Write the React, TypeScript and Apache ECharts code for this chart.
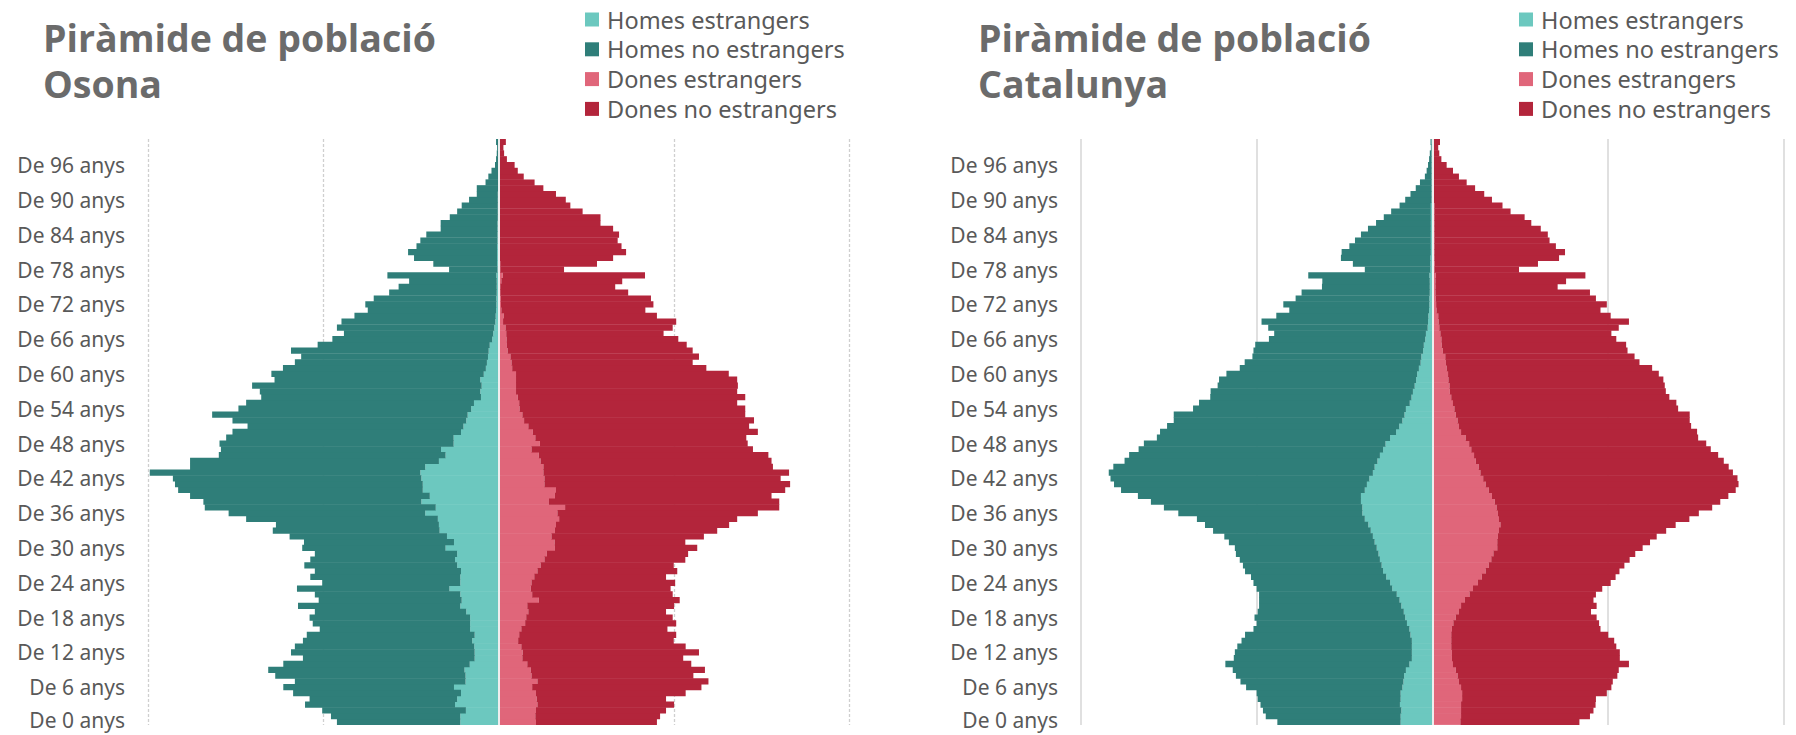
import React, { useEffect, useRef } from "react";
import * as echarts from "echarts";

// Age categories (index 0 = 0 years, bottom of the pyramid)
const ageLabels: string[] = Array.from({ length: 101 }, (_, i) => `De ${i} anys`);

const seriesNames = ["Homes estrangers", "Homes no estrangers", "Dones estrangers", "Dones no estrangers"];
const colors = ["#6cc8bf", "#2f7e79", "#e0667a", "#b3253b"];

// Values in % of population (outer edge = total of each sex; inner = foreigners)
const osonaMenTotal = [
  0.461, 0.478, 0.503, 0.552, 0.539, 0.586, 0.614, 0.581, 0.637, 0.657,
  0.614, 0.558, 0.592, 0.581, 0.558, 0.547, 0.51, 0.53, 0.539, 0.524,
  0.572, 0.513, 0.524, 0.575, 0.503, 0.537, 0.524, 0.554, 0.537, 0.524,
  0.56, 0.555, 0.596, 0.644, 0.635, 0.72, 0.77, 0.838, 0.842, 0.88,
  0.914, 0.923, 0.929, 0.995, 0.88, 0.88, 0.798, 0.792, 0.796, 0.777,
  0.759, 0.716, 0.759, 0.817, 0.742, 0.72, 0.677, 0.681, 0.703, 0.639,
  0.648, 0.615, 0.581, 0.563, 0.592, 0.516, 0.474, 0.441, 0.461, 0.448,
  0.411, 0.373, 0.38, 0.356, 0.312, 0.285, 0.255, 0.317, 0.141, 0.186,
  0.241, 0.258, 0.234, 0.223, 0.206, 0.165, 0.165, 0.139, 0.118, 0.105,
  0.084, 0.062, 0.062, 0.037, 0.029, 0.02, 0.01, 0.007, 0.005, 0.004, 0.007,
];
const osonaMenForeign = [
  0.109, 0.109, 0.093, 0.124, 0.118, 0.107, 0.127, 0.094, 0.094, 0.097,
  0.082, 0.068, 0.068, 0.069, 0.075, 0.068, 0.081, 0.081, 0.081, 0.092,
  0.109, 0.105, 0.109, 0.14, 0.109, 0.109, 0.107, 0.118, 0.124, 0.118,
  0.151, 0.127, 0.147, 0.168, 0.17, 0.173, 0.209, 0.179, 0.22, 0.196,
  0.216, 0.216, 0.22, 0.223, 0.209, 0.17, 0.151, 0.164, 0.128, 0.128,
  0.107, 0.1, 0.092, 0.088, 0.078, 0.07, 0.05, 0.052, 0.048, 0.052,
  0.042, 0.036, 0.033, 0.03, 0.028, 0.025, 0.018, 0.015, 0.012, 0.009,
  0.008, 0.007, 0.006, 0.006, 0.005, 0.005, 0.005, 0.006, 0.003, 0.004,
  0.004, 0.004, 0.004, 0.003, 0.003, 0.003, 0.003, 0.002, 0.002, 0.002,
  0.002, 0.002, 0.001, 0.001, 0.001, 0.001, 0.001, 0.001, 0.001, 0.001, 0.001,
];
const osonaWomenTotal = [
  0.452, 0.461, 0.478, 0.501, 0.478, 0.534, 0.579, 0.599, 0.556, 0.589,
  0.55, 0.527, 0.572, 0.534, 0.5, 0.507, 0.482, 0.507, 0.497, 0.478,
  0.501, 0.517, 0.497, 0.491, 0.504, 0.478, 0.51, 0.5, 0.533, 0.541,
  0.567, 0.533, 0.586, 0.624, 0.658, 0.681, 0.74, 0.801, 0.801, 0.779,
  0.818, 0.832, 0.805, 0.829, 0.783, 0.779, 0.77, 0.726, 0.711, 0.707,
  0.74, 0.715, 0.729, 0.704, 0.704, 0.681, 0.704, 0.681, 0.683, 0.681,
  0.657, 0.593, 0.554, 0.572, 0.554, 0.537, 0.513, 0.471, 0.497, 0.507,
  0.452, 0.419, 0.442, 0.435, 0.37, 0.333, 0.353, 0.418, 0.187, 0.281,
  0.327, 0.364, 0.351, 0.34, 0.344, 0.327, 0.291, 0.291, 0.24, 0.205,
  0.192, 0.164, 0.128, 0.103, 0.072, 0.055, 0.046, 0.024, 0.016, 0.014, 0.021,
];
const osonaWomenForeign = [
  0.107, 0.105, 0.107, 0.111, 0.109, 0.107, 0.096, 0.111, 0.094, 0.092,
  0.082, 0.068, 0.069, 0.065, 0.056, 0.059, 0.065, 0.076, 0.079, 0.085,
  0.082, 0.115, 0.096, 0.092, 0.094, 0.102, 0.111, 0.12, 0.131, 0.138,
  0.161, 0.16, 0.151, 0.161, 0.164, 0.173, 0.168, 0.19, 0.144, 0.161,
  0.164, 0.131, 0.131, 0.128, 0.128, 0.12, 0.115, 0.094, 0.118, 0.105,
  0.098, 0.085, 0.073, 0.068, 0.06, 0.059, 0.055, 0.05, 0.05, 0.05,
  0.05, 0.039, 0.037, 0.034, 0.026, 0.024, 0.023, 0.022, 0.02, 0.013,
  0.015, 0.008, 0.007, 0.006, 0.005, 0.005, 0.008, 0.012, 0.005, 0.005,
  0.004, 0.004, 0.004, 0.004, 0.004, 0.004, 0.004, 0.004, 0.004, 0.004,
  0.003, 0.003, 0.003, 0.003, 0.003, 0.003, 0.003, 0.003, 0.003, 0.003, 0.003,
];

const catMenTotal = [
  0.441, 0.474, 0.482, 0.489, 0.497, 0.5, 0.53, 0.546, 0.559, 0.568,
  0.589, 0.565, 0.562, 0.555, 0.543, 0.533, 0.509, 0.5, 0.506, 0.497,
  0.493, 0.493, 0.493, 0.5, 0.509, 0.516, 0.533, 0.539, 0.548, 0.559,
  0.562, 0.579, 0.592, 0.624, 0.647, 0.67, 0.723, 0.764, 0.801, 0.838,
  0.886, 0.906, 0.916, 0.921, 0.908, 0.876, 0.863, 0.836, 0.821, 0.784,
  0.775, 0.755, 0.736, 0.736, 0.681, 0.664, 0.632, 0.631, 0.611, 0.607,
  0.586, 0.548, 0.534, 0.512, 0.509, 0.504, 0.465, 0.45, 0.467, 0.486,
  0.444, 0.407, 0.424, 0.389, 0.372, 0.314, 0.313, 0.353, 0.192, 0.226,
  0.26, 0.258, 0.236, 0.22, 0.203, 0.183, 0.16, 0.138, 0.117, 0.093,
  0.077, 0.062, 0.047, 0.035, 0.021, 0.016, 0.012, 0.009, 0.007, 0.004, 0.005,
];
const catMenForeign = [
  0.09, 0.09, 0.088, 0.092, 0.09, 0.09, 0.085, 0.082, 0.08, 0.075,
  0.065, 0.058, 0.058, 0.058, 0.058, 0.062, 0.065, 0.072, 0.077, 0.081,
  0.088, 0.093, 0.101, 0.114, 0.12, 0.131, 0.14, 0.144, 0.149, 0.153,
  0.158, 0.164, 0.169, 0.175, 0.182, 0.192, 0.199, 0.199, 0.203, 0.203,
  0.192, 0.186, 0.179, 0.169, 0.164, 0.156, 0.149, 0.14, 0.133, 0.12,
  0.103, 0.094, 0.085, 0.079, 0.075, 0.064, 0.059, 0.055, 0.05, 0.046,
  0.043, 0.038, 0.033, 0.031, 0.026, 0.024, 0.02, 0.018, 0.013, 0.012,
  0.011, 0.009, 0.008, 0.008, 0.007, 0.007, 0.007, 0.008, 0.005, 0.005,
  0.005, 0.004, 0.004, 0.004, 0.004, 0.004, 0.004, 0.004, 0.004, 0.004,
  0.002, 0.002, 0.002, 0.002, 0.002, 0.002, 0.002, 0.002, 0.002, 0.002, 0.002,
];
const catWomenTotal = [
  0.419, 0.449, 0.459, 0.465, 0.466, 0.497, 0.51, 0.514, 0.527, 0.531,
  0.56, 0.534, 0.534, 0.524, 0.518, 0.501, 0.479, 0.475, 0.468, 0.452,
  0.468, 0.459, 0.466, 0.484, 0.508, 0.522, 0.533, 0.547, 0.562, 0.578,
  0.599, 0.62, 0.639, 0.666, 0.693, 0.732, 0.759, 0.797, 0.82, 0.843,
  0.864, 0.872, 0.869, 0.856, 0.844, 0.83, 0.814, 0.793, 0.78, 0.757,
  0.754, 0.737, 0.733, 0.733, 0.7, 0.695, 0.675, 0.665, 0.662, 0.658,
  0.645, 0.626, 0.59, 0.576, 0.556, 0.552, 0.524, 0.51, 0.531, 0.56,
  0.508, 0.479, 0.497, 0.466, 0.449, 0.357, 0.381, 0.436, 0.247, 0.301,
  0.361, 0.378, 0.352, 0.334, 0.329, 0.309, 0.282, 0.263, 0.223, 0.2,
  0.17, 0.148, 0.122, 0.098, 0.076, 0.059, 0.041, 0.026, 0.02, 0.017, 0.022,
];
const catWomenForeign = [
  0.08, 0.082, 0.082, 0.082, 0.085, 0.085, 0.082, 0.076, 0.072, 0.067,
  0.059, 0.056, 0.056, 0.054, 0.054, 0.054, 0.056, 0.06, 0.067, 0.076,
  0.082, 0.093, 0.106, 0.116, 0.13, 0.141, 0.152, 0.161, 0.168, 0.174,
  0.185, 0.185, 0.187, 0.19, 0.194, 0.19, 0.187, 0.183, 0.178, 0.17,
  0.161, 0.152, 0.145, 0.137, 0.132, 0.124, 0.119, 0.111, 0.105, 0.095,
  0.082, 0.076, 0.072, 0.067, 0.063, 0.059, 0.054, 0.05, 0.049, 0.046,
  0.045, 0.041, 0.039, 0.037, 0.03, 0.027, 0.026, 0.023, 0.02, 0.018,
  0.017, 0.012, 0.011, 0.01, 0.009, 0.009, 0.009, 0.01, 0.006, 0.007,
  0.006, 0.006, 0.006, 0.006, 0.006, 0.006, 0.006, 0.006, 0.006, 0.006,
  0.004, 0.004, 0.004, 0.004, 0.004, 0.004, 0.004, 0.004, 0.004, 0.004, 0.004,
];

const r3 = (v: number) => Math.round(v * 1000) / 1000;

function pyramidSeries(idx: number, menF: number[], menT: number[], womF: number[], womT: number[]) {
  const base = {
    type: "bar" as const,
    xAxisIndex: idx,
    yAxisIndex: idx,
    stack: "s" + idx,
    barWidth: "108%",
    silent: true,
  };
  const style = (c: string) => ({ color: c });
  return [
    { ...base, name: seriesNames[0], data: menF.map((v) => r3(-v)), itemStyle: style(colors[0]) },
    { ...base, name: seriesNames[1], data: menT.map((t, k) => r3(-(t - menF[k]))), itemStyle: style(colors[1]) },
    { ...base, name: seriesNames[2], data: womF.map((v) => r3(v)), itemStyle: style(colors[2]) },
    {
      ...base,
      name: seriesNames[3],
      data: womT.map((t, k) => r3(t - womF[k])),
      itemStyle: style(colors[3]),
      markLine: {
        silent: true,
        symbol: ["none", "none"],
        label: { show: false },
        lineStyle: { color: "#eeeeee", width: 2, type: "solid" },
        data: [{ xAxis: 0 }],
      },
    },
  ];
}

export default function App() {
  const ref = useRef<HTMLDivElement>(null);
  useEffect(() => {
    document.body.style.margin = "0";
    const chart = echarts.init(ref.current!, undefined, { renderer: "svg" });
    const gridTop = 139;
    const gridBottom = 9.5;
    const makeX = (idx: number, dashed: boolean) => ({
      type: "value" as const,
      gridIndex: idx,
      min: -1,
      max: 1,
      interval: 0.5,
      axisLabel: { show: false },
      axisTick: { show: false },
      axisLine: { show: false },
      splitLine: {
        show: true,
        lineStyle: dashed
          ? { color: "#cfcfcf", width: 1.3, type: [3, 2] }
          : { color: "#d9d9d9", width: 1.6, type: "solid" },
      },
    });
    const labelFont = { fontSize: 21, lineHeight: 19, color: "#595959", fontFamily: "Noto Sans" };
    const makeY = (idx: number) => ({
      type: "category" as const,
      gridIndex: idx,
      data: ageLabels,
      axisTick: { show: false },
      axisLine: { show: false },
      axisLabel: {
        interval: 5,
        ...labelFont,
        margin: 23,
        formatter: (v: string, i: number) => (i === 0 ? `{low|${v}}` : v),
        rich: { low: { ...labelFont, padding: [0, 0, 5, 0] } },
      },
    });
    const legendBase = {
      orient: "vertical" as const,
      top: 7.5,
      padding: 0,
      itemWidth: 14,
      itemHeight: 14,
      itemGap: 5.8,
      icon: "rect",
      selectedMode: false,
      data: seriesNames,
      textStyle: { fontSize: 23.5, color: "#595959", fontFamily: "Noto Sans", lineHeight: 24, padding: [0, 0, 0, 3] },
    };
    const titleStyle = {
      fontSize: 37.5,
      fontWeight: 700,
      color: "#6b6b6b",
      fontFamily: "Open Sans",
      lineHeight: 46,
    };
    chart.setOption({
      animation: false,
      textStyle: { fontFamily: "Noto Sans" },
      title: [
        { text: "Piràmide de població\nOsona", left: 43, top: 14, padding: 0, textStyle: titleStyle },
        { text: "Piràmide de població\nCatalunya", left: 978, top: 14, padding: 0, textStyle: titleStyle },
      ],
      legend: [
        { ...legendBase, left: 585 },
        { ...legendBase, left: 1519 },
      ],
      grid: [
        { left: 148, width: 701, top: gridTop, bottom: gridBottom, containLabel: false },
        { left: 1081, width: 702.5, top: gridTop, bottom: gridBottom, containLabel: false },
      ],
      xAxis: [makeX(0, true), makeX(1, false)],
      yAxis: [makeY(0), makeY(1)],
      series: [
        ...pyramidSeries(0, osonaMenForeign, osonaMenTotal, osonaWomenForeign, osonaWomenTotal),
        ...pyramidSeries(1, catMenForeign, catMenTotal, catWomenForeign, catWomenTotal),
      ],
    });
    return () => chart.dispose();
  }, []);
  return <div ref={ref} style={{ width: 1796, height: 735 }} />;
}
